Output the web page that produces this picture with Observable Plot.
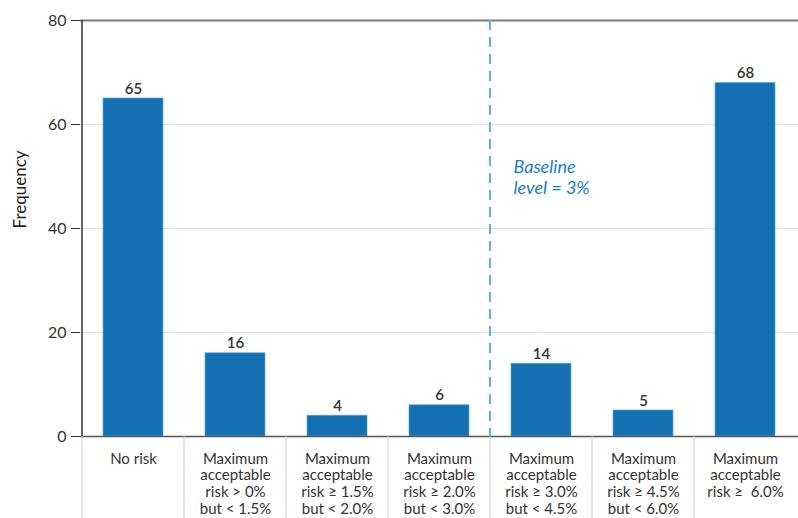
<!DOCTYPE html>
<html>
<head>
<meta charset="utf-8">
<script src="https://cdn.jsdelivr.net/npm/d3@7"></script>
<script src="https://cdn.jsdelivr.net/npm/@observablehq/plot@0.6"></script>
<style>
  html, body { margin: 0; padding: 0; background: #fff; }
  #chart { width: 798px; height: 518px; }
</style>
</head>
<body>
<div id="chart"></div>
<script>
// Risk categories (x axis) and how many respondents chose each one
const categories = [
  "No risk",
  "Maximum\nacceptable\nrisk > 0%\nbut < 1.5%",
  "Maximum\nacceptable\nrisk ≥ 1.5%\nbut < 2.0%",
  "Maximum\nacceptable\nrisk ≥ 2.0%\nbut < 3.0%",
  "Maximum\nacceptable\nrisk ≥ 3.0%\nbut < 4.5%",
  "Maximum\nacceptable\nrisk ≥ 4.5%\nbut < 6.0%",
  "Maximum\nacceptable\nrisk ≥  6.0%"
];
const frequencies = [65, 16, 4, 6, 14, 5, 68];
const yTicks = [0, 20, 40, 60, 80];
const yLabel = "Frequency";

// The 3% baseline sits on the boundary before this category
const baselineCategory = categories[4];
const baselineText = "Baseline\nlevel = 3%";

const data = categories.map((category, i) => ({category, frequency: frequencies[i]}));

const font = "Lato, 'Open Sans', sans-serif";
const barColor = "#1570b2";

// Draws the band dividers under the axis, the y axis line and the dashed baseline
function dividers(index, scales, values, dimensions) {
  const x = scales.x, y = scales.y;
  const desc = scales.scales ? scales.scales.x : null;
  const step = desc && desc.step != null ? desc.step : x.step();
  const bw = desc && desc.bandwidth != null ? desc.bandwidth : x.bandwidth();
  const edge = c => x(c) - (step - bw) / 2;
  const g = d3.create("svg:g");
  const y0 = y(0), yTop = y(d3.max(yTicks));
  for (const c of categories) {
    g.append("line")
      .attr("x1", edge(c)).attr("x2", edge(c))
      .attr("y1", y0).attr("y2", dimensions.height)
      .attr("stroke", "#cfcfcf").attr("stroke-width", 1);
  }
  g.append("line")
    .attr("x1", edge(categories[0])).attr("x2", edge(categories[0]))
    .attr("y1", yTop).attr("y2", y0)
    .attr("stroke", "#333").attr("stroke-width", 1.5);
  g.append("line")
    .attr("x1", edge(baselineCategory)).attr("x2", edge(baselineCategory))
    .attr("y1", yTop).attr("y2", y0)
    .attr("stroke", "#5ab3e4").attr("stroke-width", 2)
    .attr("stroke-dasharray", "10,7");
  return g.node();
}

const chart = Plot.plot({
  width: 798,
  height: 518,
  marginTop: 20,
  marginBottom: 82,
  marginLeft: 80,
  marginRight: 0,
  style: {fontFamily: font, background: "#fff", overflow: "visible"},
  x: {domain: categories, paddingInner: 0.415, paddingOuter: 0.2075, label: null},
  y: {domain: [0, 80], label: null},
  marks: [
    Plot.gridY([20, 40, 60], {stroke: "#dedede", strokeOpacity: 1}),
    Plot.barY(data, {x: "category", y: "frequency", fill: barColor, stroke: "#5da9de", strokeWidth: 0.7}),
    Plot.ruleY([80], {stroke: "#7a7a7a", strokeWidth: 2}),
    Plot.ruleY([0], {stroke: "#555", strokeWidth: 1.5}),
    dividers,
    Plot.axisY({
      ticks: yTicks, tickSize: 9, tickPadding: 5, stroke: "#333",
      fontSize: 16, fill: "#333", label: null
    }),
    Plot.text([yLabel], {
      text: d => d, frameAnchor: "left", rotate: -90, dx: -60,
      fontSize: 17, fill: "#222"
    }),
    Plot.axisX({
      tickSize: 0, tickPadding: 15, fontSize: 15, fill: "#333",
      lineHeight: 1.13, label: null
    }),
    Plot.text(data, {
      x: "category", y: "frequency", text: d => String(d.frequency),
      lineAnchor: "bottom", dy: -5, fontSize: 15, fontWeight: 600, fill: "#333"
    }),
    Plot.text([baselineText], {
      x: () => baselineCategory, text: d => d, frameAnchor: "top",
      textAnchor: "start", lineAnchor: "top", dx: -28, dy: 137,
      fontSize: 18, fontStyle: "italic", fill: "#1b7cc2", lineHeight: 1.2
    })
  ]
});

document.getElementById("chart").appendChild(chart);
</script>
</body>
</html>
